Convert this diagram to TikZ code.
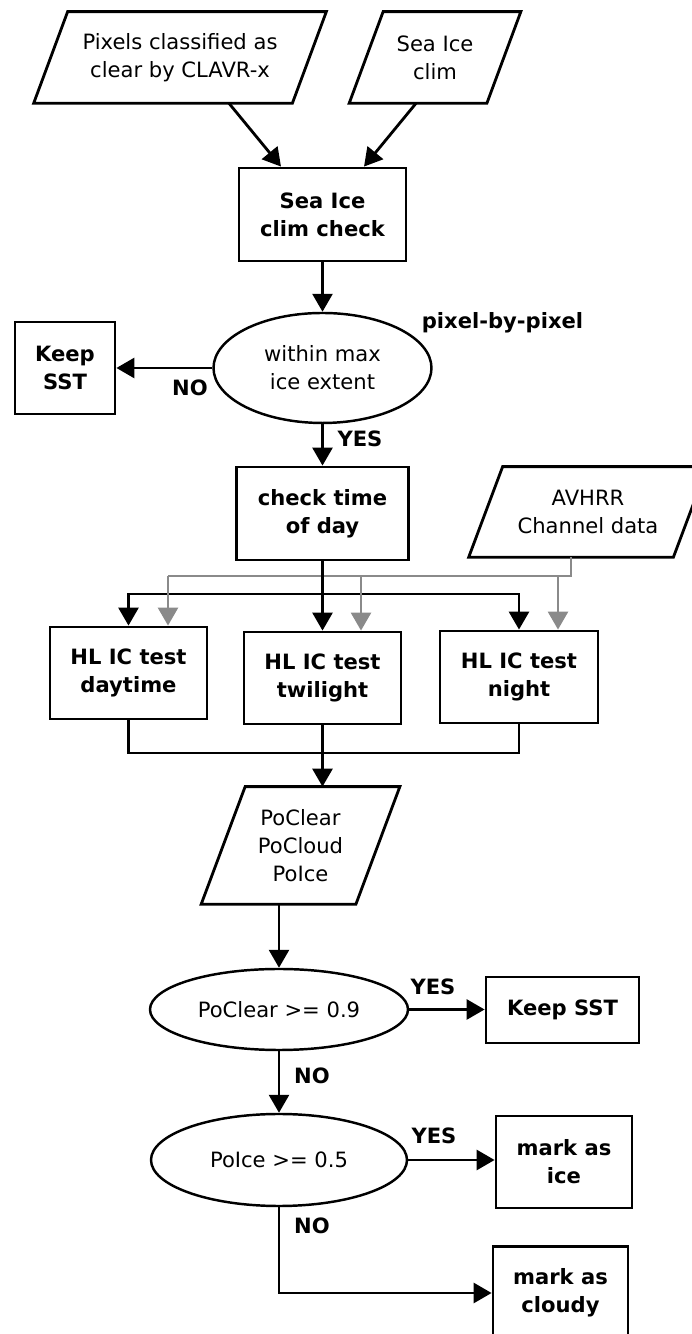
\documentclass[tikz,border=0pt]{standalone}
\usepackage{fontspec}
\setmainfont{DejaVu Sans}
\usepackage{xcolor}
\usepackage{tikz}
\usetikzlibrary{calc,shapes.geometric,arrows.meta}
\definecolor{feed}{HTML}{8A8A8A}
\tikzset{
  txt/.style={font=\fontsize{12}{16}\selectfont, align=center, inner sep=1pt},
  proc/.style={txt, draw, line width=1.6pt, font=\fontsize{12}{16}\selectfont\bfseries},
  dataio/.style={txt},
  io/.style={line width=1.6pt, line join=miter},
  test/.style={txt, draw, line width=1.4pt, ellipse},
  lbl/.style={txt, font=\fontsize{12}{16}\selectfont\bfseries},
  line/.style={line width=1.6pt},
  arr/.style={line, -{Triangle[length=0.36cm,width=0.40cm]}},
  gline/.style={line width=1.5pt, draw=feed},
  garr/.style={gline, -{Triangle[length=0.36cm,width=0.40cm]}, color=feed}
}
\begin{document}
\begin{tikzpicture}
\useasboundingbox (0,0) rectangle (13.84,26.68);
\clip (0,0) rectangle (13.84,26.68);
% inputs
\node[dataio, minimum width=5.16cm, minimum height=1.82cm] (pix) at (3.60,25.53) {Pixels classified as\\clear by CLAVR-x};
\node[dataio, minimum width=2.74cm, minimum height=1.82cm] (clim) at (8.70,25.53) {Sea Ice\\clim};
\draw[io] ([xshift=-0.34cm]pix.south west) -- ([xshift=-0.34cm]pix.south east) -- ([xshift=0.34cm]pix.north east) -- ([xshift=0.34cm]pix.north west) -- cycle;
\draw[io] ([xshift=-0.34cm]clim.south west) -- ([xshift=-0.34cm]clim.south east) -- ([xshift=0.34cm]clim.north east) -- ([xshift=0.34cm]clim.north west) -- cycle;
\node[proc, minimum width=3.34cm, minimum height=1.86cm] (chk) at (6.45,22.39) {Sea Ice\\clim check};
\draw[arr] ([xshift=0.98cm]pix.south) -- ([xshift=-0.83cm]chk.north);
\draw[arr] ([xshift=-0.38cm]clim.south) -- ([xshift=0.83cm]chk.north);

% max ice extent
\node[test, minimum width=4.36cm, minimum height=2.20cm] (ext) at (6.45,19.32) {within max\\ice extent};
\node[proc, minimum width=2.00cm, minimum height=1.84cm] (keep1) at (1.30,19.32) {Keep\\SST};
\node[lbl] (pbp) at (10.05,20.22) {pixel-by-pixel};
\node[lbl] (no1) at (3.80,18.92) {NO};
\node[lbl] (yes1) at (7.20,17.90) {YES};
\draw[arr] (chk.south) -- (ext.north);
\draw[arr] (ext.west) -- (keep1.east);

% time of day
\node[proc, minimum width=3.44cm, minimum height=1.86cm] (tod) at (6.45,16.41) {check time\\of day};
\node[dataio, minimum width=4.08cm, minimum height=1.80cm] (avhrr) at (11.76,16.44) {AVHRR\\Channel data};
\draw[io] ([xshift=-0.34cm]avhrr.south west) -- ([xshift=-0.34cm]avhrr.south east) -- ([xshift=0.34cm]avhrr.north east) -- ([xshift=0.34cm]avhrr.north west) -- cycle;
\draw[arr] (ext.south) -- (tod.north);

% the three tests
\node[proc, minimum width=3.14cm, minimum height=1.84cm] (day) at (2.57,13.22) {HL IC test\\daytime};
\node[proc, minimum width=3.14cm, minimum height=1.84cm] (twi) at (6.45,13.12) {HL IC test\\twilight};
\node[proc, minimum width=3.16cm, minimum height=1.84cm] (nig) at (10.38,13.14) {HL IC test\\night};
\coordinate (gl) at (3.36,15.16);
\coordinate (gm) at (7.22,15.16);
\coordinate (gr) at (11.16,15.16);
\coordinate (split) at (6.45,14.80);
\draw[gline] ([xshift=-0.34cm]avhrr.south) |- (gl);
\draw[arr] (tod.south) -- (twi.north);
\draw[arr] (split) -| (day.north);
\draw[arr] (split) -| (nig.north);
\draw[garr] (gl) -- (gl |- day.north);
\draw[garr] (gm) -- (gm |- twi.north);
\draw[garr] (gr) -- (gr |- nig.north);

% probabilities
\node[dataio, minimum width=3.08cm, minimum height=2.34cm] (po) at (6.01,9.77) {PoClear\\PoCloud\\PoIce};
\draw[io] ([xshift=-0.44cm]po.south west) -- ([xshift=-0.44cm]po.south east) -- ([xshift=0.44cm]po.north east) -- ([xshift=0.44cm]po.north west) -- cycle;
\coordinate (merge) at (6.45,11.62);
\draw[line] (day.south) |- (merge) -| (nig.south);
\draw[arr] (twi.south) -- (twi.south |- po.north);

% decisions
\node[test, minimum width=5.16cm, minimum height=1.62cm] (clr) at (5.58,6.49) {PoClear >= 0.9};
\node[proc, minimum width=3.06cm, minimum height=1.32cm] (keep2) at (11.25,6.48) {Keep SST};
\node[lbl] (yes2) at (8.66,6.94) {YES};
\node[lbl] (no2) at (6.24,5.16) {NO};
\node[test, minimum width=5.12cm, minimum height=1.84cm] (ice) at (5.58,3.48) {PoIce >= 0.5};
\node[proc, minimum width=2.72cm, minimum height=1.84cm] (mice) at (11.28,3.44) {mark as\\ice};
\node[lbl] (yes3) at (8.68,3.96) {YES};
\node[lbl] (no3) at (6.24,2.16) {NO};
\node[proc, minimum width=2.70cm, minimum height=1.86cm] (cloudy) at (11.21,0.82) {mark as\\cloudy};
\draw[arr] (po.south -| clr.north) -- (clr.north);
\draw[arr] (clr.east) -- (clr.east -| keep2.west);
\draw[arr] (clr.south) -- (ice.north);
\draw[arr] (ice.east) -- (ice.east -| mice.west);
\draw[arr] (ice.south) |- (cloudy.west);
\end{tikzpicture}
\end{document}
